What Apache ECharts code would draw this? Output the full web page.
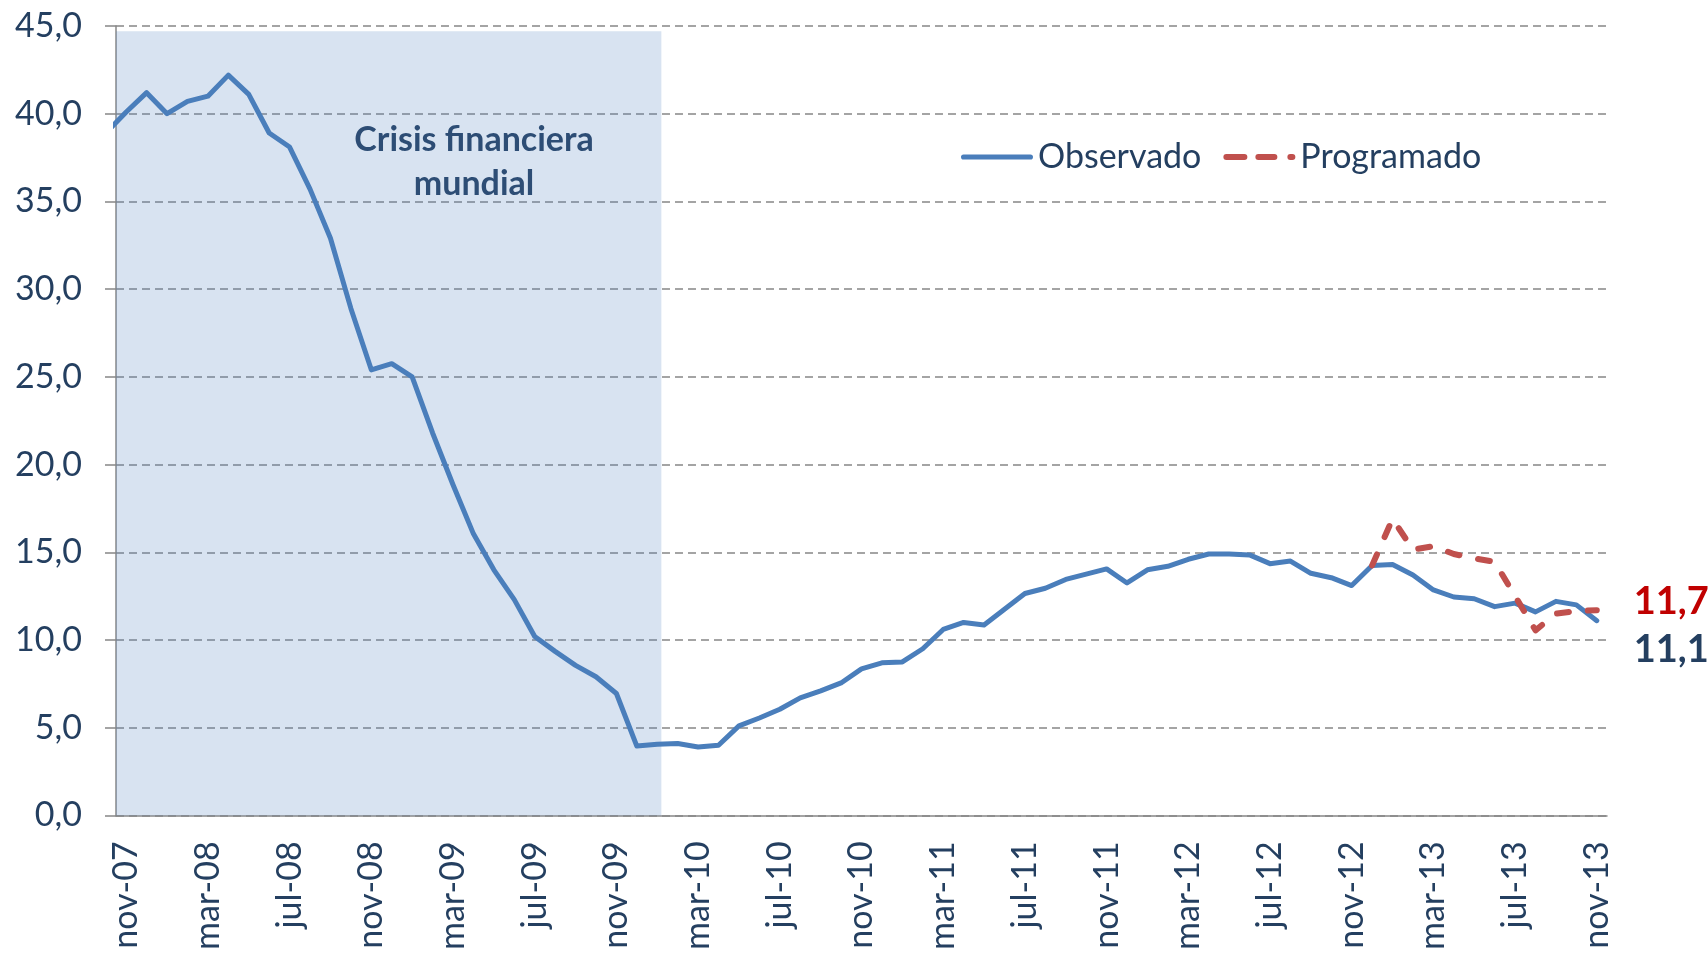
<!DOCTYPE html>
<html>
<head>
<meta charset="utf-8">
<title>Crisis financiera mundial</title>
<script src="https://cdn.jsdelivr.net/npm/echarts@6/dist/echarts.min.js"></script>
<style>
  html, body { margin: 0; padding: 0; background: #fff; }
  #chart { width: 1708px; height: 953px; }
</style>
</head>
<body>
<div id="chart"></div>
<script>
// meses (nov-07 .. nov-13)
const months = [
  'nov-07', 'dic-07',
  'ene-08', 'feb-08', 'mar-08', 'abr-08', 'may-08', 'jun-08', 'jul-08', 'ago-08', 'sep-08', 'oct-08', 'nov-08', 'dic-08',
  'ene-09', 'feb-09', 'mar-09', 'abr-09', 'may-09', 'jun-09', 'jul-09', 'ago-09', 'sep-09', 'oct-09', 'nov-09', 'dic-09',
  'ene-10', 'feb-10', 'mar-10', 'abr-10', 'may-10', 'jun-10', 'jul-10', 'ago-10', 'sep-10', 'oct-10', 'nov-10', 'dic-10',
  'ene-11', 'feb-11', 'mar-11', 'abr-11', 'may-11', 'jun-11', 'jul-11', 'ago-11', 'sep-11', 'oct-11', 'nov-11', 'dic-11',
  'ene-12', 'feb-12', 'mar-12', 'abr-12', 'may-12', 'jun-12', 'jul-12', 'ago-12', 'sep-12', 'oct-12', 'nov-12', 'dic-12',
  'ene-13', 'feb-13', 'mar-13', 'abr-13', 'may-13', 'jun-13', 'jul-13', 'ago-13', 'sep-13', 'oct-13', 'nov-13'
];

// oct-07, cortado por el eje
const prevObservado = 38.9;

const observado = [
  40.1, 41.2,
  40.0, 40.7, 41.0, 42.2, 41.1, 38.9, 38.1, 35.7, 32.9, 28.9, 25.4, 25.75,
  25.0, 21.8, 18.85, 16.05, 14.0, 12.3, 10.2, 9.35, 8.55, 7.9, 6.95, 3.95,
  4.05, 4.1, 3.9, 4.0, 5.1, 5.55, 6.05, 6.7, 7.1, 7.55, 8.35, 8.7,
  8.75, 9.5, 10.6, 11.0, 10.85, 11.75, 12.65, 12.95, 13.45, 13.75, 14.05, 13.25,
  14.0, 14.2, 14.6, 14.9, 14.9, 14.85, 14.35, 14.5, 13.8, 13.55, 13.1, 14.25,
  14.3, 13.7, 12.85, 12.45, 12.35, 11.9, 12.1, 11.6, 12.2, 12.0, 11.1
];

// programado desde dic-12
const programadoStart = 61;
const programado = [14.25, 16.9, 15.15, 15.35, 14.9, 14.65, 14.45, 12.5, 10.55, 11.5, 11.65, 11.7];

// crisis: nov-07 hasta ~ene-10
const crisisEnd = 26.7;
const crisisTop = 44.7;

const navy = '#243F60';
const gridGray = '#878787';
const fmt = v => v.toFixed(1).replace('.', ',');

// iconos de la leyenda (linea continua / guiones)
const iconSolid = 'path://M2.5,0h66a2.5,2.5 0 0 1 0,5h-66a2.5,2.5 0 0 1 0,-5z';
const iconDash = 'path://M3,0h18a3,3 0 0 1 0,6h-18a3,3 0 0 1 0,-6z' +
  'M35,0h16a3,3 0 0 1 0,6h-16a3,3 0 0 1 0,-6z' +
  'M67,0h2a3,3 0 0 1 0,6h-2a3,3 0 0 1 0,-6z';

const obsData = [[-0.5, prevObservado]].concat(observado.map((v, i) => [i + 0.5, v]));
const progData = programado.map((v, i) => [programadoStart + i + 0.5, v]);

const chart = echarts.init(document.getElementById('chart'));
chart.setOption({
  animation: false,
  backgroundColor: '#fff',
  textStyle: { fontFamily: 'Lato' },
  grid: { left: 116, right: 101, top: 26, bottom: 133 },
  legend: {
    left: 956,
    top: 135,
    itemWidth: 72,
    itemHeight: 14,
    itemGap: 22,
    textStyle: { fontSize: 34, color: navy, fontFamily: 'Lato' },
    data: [
      { name: 'Observado', icon: iconSolid },
      { name: 'Programado', icon: iconDash }
    ]
  },
  graphic: [{
    type: 'text',
    x: 474,
    y: 162,
    style: {
      text: 'Crisis financiera\nmundial',
      align: 'center',
      verticalAlign: 'middle',
      lineHeight: 44,
      fill: navy,
      font: 'bold 34px Lato'
    }
  }],
  xAxis: [
    {
      type: 'category',
      data: months,
      boundaryGap: true,
      axisLine: { lineStyle: { color: gridGray, width: 1.5 } },
      axisTick: { interval: 3, length: 12, lineStyle: { color: gridGray, width: 1.5 } },
      axisLabel: {
        interval: 3,
        rotate: 90,
        margin: 26,
        fontSize: 34,
        color: navy,
        fontFamily: 'Lato'
      },
      splitLine: { show: false }
    },
    { type: 'value', min: 0, max: 73, show: false }
  ],
  yAxis: {
    type: 'value',
    min: 0,
    max: 45,
    interval: 5,
    axisLine: { show: true, lineStyle: { color: gridGray, width: 1.5 } },
    axisTick: { show: true, length: 11, lineStyle: { color: gridGray, width: 1.5 } },
    axisLabel: {
      margin: 34,
      fontSize: 34,
      color: navy,
      fontFamily: 'Lato',
      formatter: v => fmt(v)
    },
    splitLine: { lineStyle: { color: gridGray, width: 1.5, type: [8, 5] } }
  },
  series: [
    {
      name: 'Observado',
      type: 'line',
      xAxisIndex: 1,
      data: obsData,
      symbol: 'none',
      color: '#4A7EBB',
      lineStyle: { width: 5, color: '#4A7EBB', cap: 'round', join: 'round' },
      endLabel: {
        show: true,
        formatter: p => fmt(p.value[1]),
        distance: 37,
        offset: [0, 29],
        fontSize: 38,
        fontWeight: 'bold',
        color: navy,
        fontFamily: 'Lato'
      },
      markArea: {
        silent: true,
        itemStyle: { color: 'rgba(79,129,189,0.22)' },
        data: [[{ xAxis: 0, yAxis: 0 }, { xAxis: crisisEnd, yAxis: crisisTop }]]
      },
      z: 3
    },
    {
      name: 'Programado',
      type: 'line',
      xAxisIndex: 1,
      data: progData,
      symbol: 'none',
      color: '#C0504D',
      lineStyle: { width: 6, color: '#C0504D', type: [12, 19], cap: 'round', join: 'round' },
      endLabel: {
        show: true,
        formatter: p => fmt(p.value[1]),
        distance: 37,
        offset: [0, -8],
        fontSize: 38,
        fontWeight: 'bold',
        color: '#C00000',
        fontFamily: 'Lato'
      },
      z: 4
    }
  ]
});
</script>
</body>
</html>
